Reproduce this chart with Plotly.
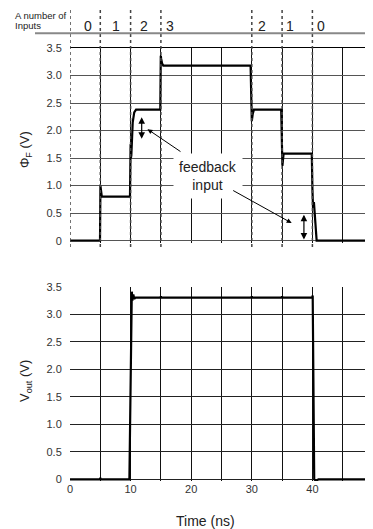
import plotly.graph_objects as go

# ---------------- data ----------------
phi_time = [0, 4.95, 5.02, 5.1, 5.25, 9.9, 10.0, 10.05, 10.12, 10.2, 10.35, 10.6, 10.9,
            14.9, 14.98, 15.05, 15.2, 15.4, 29.8, 29.9, 30.0, 30.15, 30.35,
            34.85, 34.95, 35.05, 35.25, 39.9, 40.0, 40.1, 40.25, 40.7, 50]
phi_f = [0, 0, 1.0, 0.95, 0.8, 0.8, 1.75, 1.5, 1.55, 1.8, 2.15, 2.33, 2.38,
         2.38, 3.36, 3.3, 3.22, 3.18, 3.18, 2.6, 2.17, 2.3, 2.38,
         2.38, 1.6, 1.36, 1.58, 1.58, 0.95, 0.6, 0.7, 0, 0]

vout_time = [0, 4.95, 5.0, 5.05, 9.8, 10.2, 10.3, 10.45, 10.6, 10.8, 14.95, 15.0, 15.05,
             29.95, 30.0, 30.05, 34.95, 35.0, 35.05, 39.95, 40.05, 40.3, 40.6, 41.0, 50]
v_out = [0, 0, 0.03, 0, 0, 3.41, 3.25, 3.36, 3.28, 3.3, 3.3, 3.33, 3.3,
         3.3, 3.33, 3.3, 3.3, 3.33, 3.3, 3.3, 3.34, 0, -0.03, 0, 0]

segment_bounds = [0, 5, 10, 15, 30, 35, 40]
input_counts = [0, 1, 2, 3, 2, 1, 0]
input_label_x = [2.9, 7.6, 12.2, 16.55, 31.6, 36.25, 41.4]

y_tickvals = [0, 0.5, 1.0, 1.5, 2.0, 2.5, 3.0, 3.5]
y_ticktext = ["0", "0.5", "1.0", "1.5", "2.0", "2.5", "3.0", "3.5"]
x_gridvals = [0, 5, 10, 15, 20, 25, 30, 35, 40, 45, 50]
x_ticktext = ["0", "", "10", "", "20", "", "30", "", "40", "", "50"]

# ---------------- figure ----------------
FONT = "Arial, Liberation Sans, sans-serif"
fig = go.Figure()
fig.add_trace(go.Scatter(x=phi_time, y=phi_f, mode="lines",
                         line=dict(color="black", width=2.2), xaxis="x", yaxis="y",
                         showlegend=False, hoverinfo="skip"))
fig.add_trace(go.Scatter(x=vout_time, y=v_out, mode="lines",
                         line=dict(color="black", width=2.2), xaxis="x2", yaxis="y2",
                         showlegend=False, hoverinfo="skip"))

tickfont = dict(family=FONT, size=11, color="#333")

# the page body adds an 8px offset, so the figure is 365x521 with reduced margins
fig.update_layout(
    width=365, height=521,
    margin=dict(l=62, r=0, t=40, b=48, pad=0),
    paper_bgcolor="white", plot_bgcolor="white",
    xaxis=dict(domain=[0, 1], range=[0, 50], anchor="y", side="top",
               tickvals=x_gridvals[1:], showticklabels=False, ticks="",
               showgrid=True, gridcolor="#111", gridwidth=1, zeroline=False,
               showline=True, linecolor="black", linewidth=1, mirror=False),
    yaxis=dict(domain=[0.5506, 1], range=[-0.035, 3.5], anchor="x",
               tickvals=y_tickvals, ticktext=y_ticktext, tickfont=tickfont,
               ticks="outside", ticklen=5, tickcolor="rgba(0,0,0,0)",
               showgrid=True, gridcolor="#555", gridwidth=1, zeroline=False,
               showline=False),
    xaxis2=dict(domain=[0, 1], range=[0, 50], anchor="y2",
                tickvals=x_gridvals, ticktext=x_ticktext, tickfont=tickfont,
                ticks="", showgrid=True, gridcolor="#111", gridwidth=1,
                zeroline=False, showline=False),
    yaxis2=dict(domain=[0, 0.4487], range=[-0.03, 3.5], anchor="x2",
                tickvals=y_tickvals, ticktext=y_ticktext, tickfont=tickfont,
                ticks="outside", ticklen=5, tickcolor="rgba(0,0,0,0)",
                showgrid=True, gridcolor="#222", gridwidth=1, zeroline=False,
                showline=False),
)

shapes = []
for b in segment_bounds:
    shapes.append(dict(type="line", xref="x", yref="paper", x0=b, x1=b,
                       y0=0.5404, y1=1.0935, layer="above",
                       line=dict(color="#444", width=1.5, dash="dot")))
shapes.append(dict(type="line", xref="paper", yref="paper", x0=-0.1155, x1=1,
                   y0=1.0339, y1=1.0339, line=dict(color="#888", width=2)))
fig.update_layout(shapes=shapes)

ann = []
# last x tick label, cut at the right edge of the page as in the reference
ann.append(dict(xref="x2", yref="paper", x=x_gridvals[-1], y=-0.0185,
                text=x_ticktext[-1], showarrow=False, xanchor="center",
                yanchor="middle", font=tickfont))
ann.append(dict(xref="paper", yref="paper", x=-0.1881, y=1.0751, text="A number of",
                showarrow=False, xanchor="left", yanchor="middle",
                font=dict(family=FONT, size=9.5, color="#222")))
ann.append(dict(xref="paper", yref="paper", x=-0.1881, y=1.0531, text="Inputs",
                showarrow=False, xanchor="left", yanchor="middle",
                font=dict(family=FONT, size=9.5, color="#222")))
for xv, n in zip(input_label_x, input_counts):
    ann.append(dict(xref="x", yref="paper", x=xv, y=1.0508, text=str(n),
                    showarrow=False, xanchor="center", yanchor="middle",
                    font=dict(family=FONT, size=14, color="#222")))
# axis titles
ann.append(dict(xref="paper", yref="paper", x=-0.1485, y=0.7644,
                text="Φ<sub>F</sub> (V)", textangle=-90, showarrow=False,
                xanchor="center", yanchor="middle",
                font=dict(family=FONT, size=13, color="#222")))
ann.append(dict(xref="paper", yref="paper", x=-0.1485, y=0.2309,
                text="V<sub>out</sub> (V)", textangle=-90, showarrow=False,
                xanchor="center", yanchor="middle",
                font=dict(family=FONT, size=13, color="#222")))
ann.append(dict(xref="paper", yref="paper", x=0.448, y=-0.092,
                text="Time (ns)", showarrow=False,
                xanchor="center", yanchor="middle",
                font=dict(family=FONT, size=14, color="#222")))
# feedback input label
ann.append(dict(xref="x", yref="y", x=22.8, y=1.168, text="feedback<br>input",
                showarrow=False, bgcolor="white", borderpad=5,
                font=dict(family=FONT, size=14, color="#222")))
# pointer arrows
ann.append(dict(xref="x", yref="y", axref="x", ayref="y", x=12.79, y=2.025,
                ax=18.48, ay=1.60, text="", showarrow=True, arrowhead=2,
                arrowsize=1, arrowwidth=1, arrowcolor="black"))
ann.append(dict(xref="x", yref="y", axref="x", ayref="y", x=36.58, y=0.32,
                ax=26.68, ay=0.926, text="", showarrow=True, arrowhead=2,
                arrowsize=1, arrowwidth=1, arrowcolor="black"))
# double arrows
ann.append(dict(xref="x", yref="y", axref="x", ayref="y", x=11.83, y=1.85,
                ax=11.83, ay=2.27, text="", showarrow=True, arrowhead=2,
                startarrowhead=2, arrowside="end+start", arrowsize=1.1,
                startarrowsize=1.1, arrowwidth=1.2, arrowcolor="black"))
ann.append(dict(xref="x", yref="y", axref="x", ayref="y", x=38.6, y=0.02,
                ax=38.6, ay=0.5, text="", showarrow=True, arrowhead=2,
                startarrowhead=2, arrowside="end+start", arrowsize=1.1,
                startarrowsize=1.1, arrowwidth=1.2, arrowcolor="black"))
fig.update_layout(annotations=ann)

fig.write_html("out.html")
